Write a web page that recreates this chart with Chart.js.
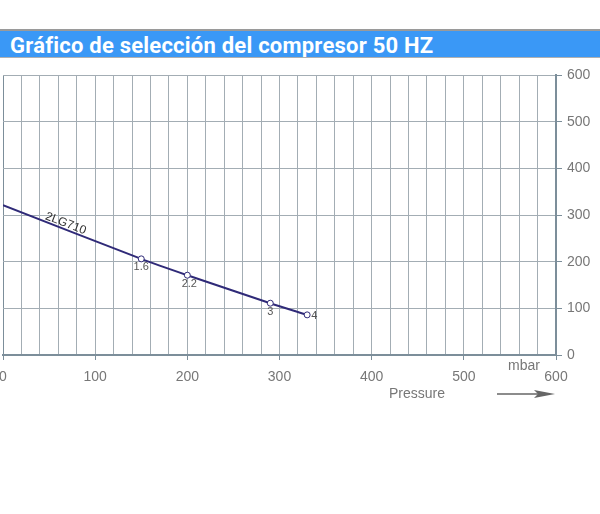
<!DOCTYPE html>
<html>
<head>
<meta charset="utf-8">
<script src="https://cdn.jsdelivr.net/npm/chart.js@4"></script>
<style>
  html, body { margin: 0; padding: 0; background: #fff; }
  #wrap { position: relative; width: 600px; height: 514px; overflow: hidden; }
  #title {
    position: absolute; left: 0; top: 29px; width: 600px; height: 26px;
    background: #3a98f6; border-top: 2px solid #9a9a9a; border-bottom: 1px solid #b0b0b0;
    color: #fff; font: bold 22px Roboto, sans-serif; line-height: 29px; letter-spacing: 0.22px;
    padding-left: 10px; box-sizing: content-box; white-space: nowrap; overflow: hidden;
  }
  #chart { position: absolute; left: -30px; top: 0; }
</style>
</head>
<body>
<div id="wrap">
  <div id="title">Gráfico de selección del compresor 50 HZ</div>
  <canvas id="chart" width="660" height="514"></canvas>
</div>
<script>
// curve 2LG710, pressure (mbar) vs flow
const pressure = [0, 150, 200, 290, 330];
const flow = [321, 206, 171, 111, 86];
const pointNames = ['', '1.6', '2.2', '3', '4'];
const seriesName = '2LG710';
const xTicks = [0, 100, 200, 300, 400, 500, 600];
const yTicks = [0, 100, 200, 300, 400, 500, 600];

const gridColor = '#a3adb4';
const axisColor = '#7c8e9a';
const textColor = '#777';

document.addEventListener('DOMContentLoaded', function() {
    const ctx = document.getElementById('chart').getContext('2d');

    const annotate = {
        id: 'annotate',
        afterDatasetsDraw(chart) {
            const c = chart.ctx;
            const xs = chart.scales.x, ys = chart.scales.y;
            const area = chart.chartArea;
            c.save();
            c.fillStyle = '#555';
            c.font = '11px "Liberation Sans", Arial, sans-serif';
            pointNames.forEach((name, i) => {
                if (!name) return;
                const px = xs.getPixelForValue(pressure[i]);
                const py = ys.getPixelForValue(flow[i]);
                if (i === pointNames.length - 1) {
                    c.textAlign = 'left'; c.textBaseline = 'middle';
                    c.fillText(name, px + 4, py + 1);
                } else {
                    c.textAlign = 'center'; c.textBaseline = 'top';
                    c.fillText(name, px + (i === 2 ? 2 : 0), py + 3);
                }
            });
            // series label along the line
            const x0 = xs.getPixelForValue(pressure[0]), y0 = ys.getPixelForValue(flow[0]);
            const x1 = xs.getPixelForValue(pressure[1]), y1 = ys.getPixelForValue(flow[1]);
            const ang = Math.atan2(y1 - y0, x1 - x0);
            const lx = xs.getPixelForValue(68);
            const ly = y0 + (lx - x0) * Math.tan(ang);
            c.translate(lx, ly - 6);
            c.rotate(ang);
            c.font = '12px "Liberation Sans", Arial, sans-serif';
            c.fillStyle = '#333';
            c.textAlign = 'center'; c.textBaseline = 'middle';
            c.fillText(seriesName, 0, 0);
            c.restore();

            // axis units
            c.save();
            c.fillStyle = textColor;
            c.font = '14px "Liberation Sans", Arial, sans-serif';
            c.textAlign = 'center'; c.textBaseline = 'middle';
            c.fillText('mbar', area.right - 32, area.bottom + 11);
            c.fillText('Pressure', area.right - 139, area.bottom + 39);
            c.strokeStyle = '#666';
            c.fillStyle = '#666';
            c.lineWidth = 1.3;
            c.beginPath();
            c.moveTo(area.right - 59, area.bottom + 39);
            c.lineTo(area.right - 12, area.bottom + 39);
            c.stroke();
            c.beginPath();
            c.moveTo(area.right - 1, area.bottom + 39);
            c.lineTo(area.right - 22, area.bottom + 35);
            c.lineTo(area.right - 18, area.bottom + 39);
            c.lineTo(area.right - 22, area.bottom + 43);
            c.closePath();
            c.fill();
            c.restore();
        }
    };

    new Chart(ctx, {
        type: 'scatter',
        data: {
            datasets: [
                {
                    label: seriesName,
                    data: pressure.map((p, i) => ({ x: p, y: flow[i] })),
                    showLine: true,
                    borderColor: '#2f2a78',
                    borderWidth: 2,
                    tension: 0.3,
                    pointRadius: pointNames.map(n => n ? 3 : 0),
                    pointBackgroundColor: '#fff',
                    pointBorderColor: '#2f2a78',
                    pointBorderWidth: 1,
                    fill: false
                }
            ]
        },
        options: {
            responsive: false,
            animation: false,
            events: [],
            layout: { padding: { left: 33, right: 30, top: 75, bottom: 129 } },
            scales: {
                x: {
                    type: 'linear',
                    min: 0,
                    max: 600,
                    afterFit: s => { s.height = 30; },
                    afterBuildTicks: s => {
                        const t = [];
                        for (let v = 0; v <= 600; v += 20) t.push({ value: v });
                        s.ticks = t;
                    },
                    ticks: {
                        autoSkip: false,
                        maxRotation: 0,
                        padding: 9,
                        color: textColor,
                        font: { family: '"Liberation Sans", Arial, sans-serif', size: 14 },
                        callback: v => xTicks.includes(v) ? v : ''
                    },
                    grid: {
                        color: c => (c.tick && (c.tick.value === 0 || c.tick.value === 600)) ? axisColor : gridColor,
                        lineWidth: 1,
                        tickLength: 5,
                        tickColor: c => (c.tick && xTicks.includes(c.tick.value)) ? axisColor : 'rgba(0,0,0,0)'
                    },
                    border: { color: axisColor, width: 2 }
                },
                y: {
                    position: 'right',
                    min: 0,
                    max: 600,
                    afterFit: s => { s.width = 44; },
                    afterBuildTicks: s => { s.ticks = yTicks.map(v => ({ value: v })); },
                    ticks: {
                        padding: 5,
                        color: textColor,
                        font: { family: '"Liberation Sans", Arial, sans-serif', size: 14 }
                    },
                    grid: {
                        color: gridColor,
                        lineWidth: 1,
                        tickLength: 6,
                        tickColor: axisColor
                    },
                    border: { color: axisColor, width: 2 }
                }
            },
            plugins: {
                legend: { display: false },
                tooltip: { enabled: false }
            }
        },
        plugins: [annotate]
    });
});
</script>
</body>
</html>
